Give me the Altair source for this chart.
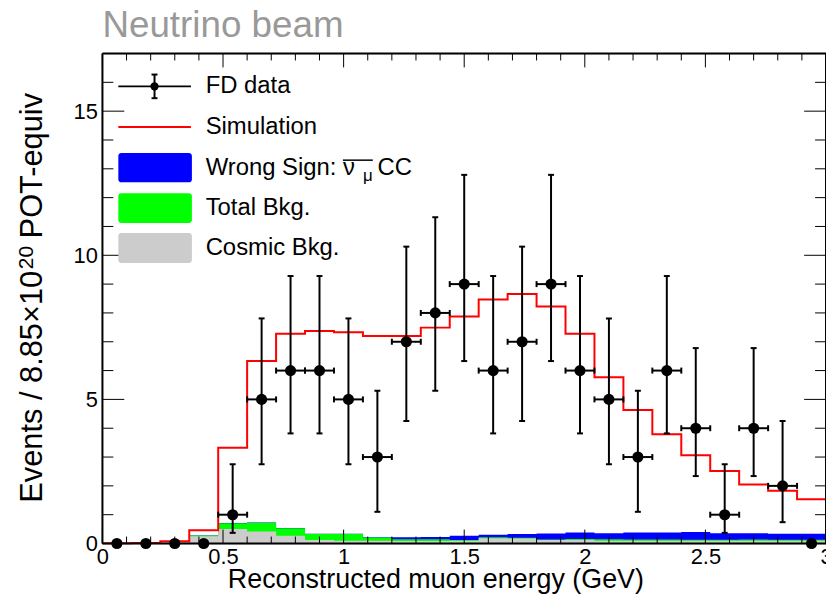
import altair as alt
import pandas as pd

FONT = "Liberation Sans"
W, H = 728, 493

# ---- data ----
edges = [0.00, 0.12, 0.24, 0.36, 0.48, 0.60, 0.72, 0.84, 0.96, 1.08, 1.20, 1.32, 1.44,
         1.56, 1.68, 1.80, 1.92, 2.04, 2.16, 2.28, 2.40, 2.52, 2.64, 2.76, 2.88, 3.00]
centers = [0.06, 0.18, 0.30, 0.42, 0.54, 0.66, 0.78, 0.90, 1.02, 1.14, 1.26, 1.38, 1.50,
           1.62, 1.74, 1.86, 1.98, 2.10, 2.22, 2.34, 2.46, 2.58, 2.70, 2.82, 2.94]
counts = [0, 0, 0, 0, 1, 5, 6, 6, 5, 3, 7, 8, 9, 6, 7, 9, 6, 5, 3, 6, 4, 1, 4, 2, 0]
err_lo = [0, 0, 0, 0, 0.37, 2.75, 3.82, 3.82, 2.75, 1.10, 4.25, 5.30, 6.33, 3.82, 4.25,
          6.33, 3.82, 2.75, 1.10, 3.82, 2.34, 0.37, 2.34, 0.74, 0]
err_hi = [0, 0, 0, 0, 2.75, 7.81, 9.28, 9.28, 7.81, 5.30, 10.30, 11.32, 12.79, 9.28, 10.30,
          12.79, 9.28, 7.81, 5.30, 9.28, 6.78, 2.75, 6.78, 4.25, 0]
simulation = [0.01, 0.02, 0.08, 0.46, 3.32, 6.33, 7.28, 7.37, 7.33, 7.20, 7.20, 7.49, 7.88,
              8.47, 8.66, 8.22, 7.28, 5.77, 4.63, 3.79, 3.06, 2.52, 2.05, 1.83, 1.54]
wrong_sign_top = [0.02, 0.03, 0.06, 0.28, 0.71, 0.73, 0.54, 0.34, 0.34, 0.22, 0.22, 0.23, 0.27,
                  0.30, 0.33, 0.35, 0.38, 0.36, 0.38, 0.38, 0.40, 0.36, 0.36, 0.34, 0.34]
total_bkg = [0.02, 0.03, 0.06, 0.28, 0.70, 0.72, 0.53, 0.33, 0.33, 0.21, 0.15, 0.15, 0.12,
             0.22, 0.20, 0.14, 0.16, 0.15, 0.14, 0.14, 0.13, 0.13, 0.14, 0.13, 0.13]
cosmic_bkg = [0.02, 0.03, 0.05, 0.25, 0.50, 0.42, 0.27, 0.12, 0.10, 0.10, 0.09, 0.09, 0.10,
              0.18, 0.17, 0.12, 0.12, 0.10, 0.10, 0.10, 0.10, 0.10, 0.10, 0.10, 0.10]
half_bin = 0.06

x_major = [0, 0.5, 1, 1.5, 2, 2.5, 3]
x_minor = [0.1, 0.2, 0.3, 0.4, 0.6, 0.7, 0.8, 0.9, 1.1, 1.2, 1.3, 1.4, 1.6, 1.7, 1.8, 1.9,
           2.1, 2.2, 2.3, 2.4, 2.6, 2.7, 2.8, 2.9]
y_major = [0, 5, 10, 15]
y_minor = [1, 2, 3, 4, 6, 7, 8, 9, 11, 12, 13, 14, 16]

# ---- tables ----
hist = pd.DataFrame({
    "x": edges,
    "sim": simulation + [simulation[-1]],
    "ws": wrong_sign_top + [wrong_sign_top[-1]],
    "bkg": total_bkg + [total_bkg[-1]],
    "cos": cosmic_bkg + [cosmic_bkg[-1]],
})
pts = pd.DataFrame({"x": centers, "n": counts, "lo": err_lo, "hi": err_hi})
pts["xl"] = pts["x"] - half_bin
pts["xh"] = pts["x"] + half_bin
pts_nz = pts[pts["n"] > 0]

xscale = alt.Scale(domain=[0, 3], nice=False, zero=False)
yscale = alt.Scale(domain=[0, 17], nice=False, zero=False)

xaxis = alt.Axis(title="Reconstructed muon energy (GeV)", values=x_major,
                 labelExpr="format(datum.value, '~g')", ticks=False, domain=False, grid=False,
                 labelFontSize=22, labelFont=FONT, labelColor="black", labelPadding=3,
                 labelFlush=False, labelOverlap=False,
                 titleFontSize=27, titleFont=FONT, titleFontWeight="normal", titleColor="black",
                 titleX=335, titleY=44, titleBaseline="alphabetic", titleAlign="center")
yaxis = alt.Axis(title=None, values=y_major, ticks=False,
                 domain=False, grid=False, labelFontSize=22, labelFont=FONT, labelColor="black",
                 labelPadding=5, labelFlush=False, labelOverlap=False)


def X(f):
    return alt.X(f, type="quantitative", scale=xscale, axis=xaxis)


def Y(f):
    return alt.Y(f, type="quantitative", scale=yscale, axis=yaxis)


hb = alt.Chart(hist)
blue = hb.mark_area(interpolate="step-after", color="#0000ff").encode(x=X("x"), y=Y("ws"))
green = hb.mark_area(interpolate="step-after", color="#00ff00").encode(x=X("x"), y=Y("bkg"))
gray = hb.mark_area(interpolate="step-after", color="#cccccc").encode(x=X("x"), y=Y("cos"))
red = hb.mark_line(interpolate="step-after", color="#ff0000", strokeWidth=2).encode(
    x=X("x"), y=Y("sim"))

pb = alt.Chart(pts_nz)
vbar = pb.mark_rule(color="black", strokeWidth=2).encode(x=X("x"), y=Y("lo"), y2="hi")
hbar = pb.mark_rule(color="black", strokeWidth=2).encode(x=X("xl"), x2="xh", y=Y("n"))
cap_lo = pb.mark_tick(orient="horizontal", size=6, thickness=2, color="black", opacity=1).encode(
    x=X("x"), y=Y("lo"))
cap_hi = pb.mark_tick(orient="horizontal", size=6, thickness=2, color="black", opacity=1).encode(
    x=X("x"), y=Y("hi"))
cap_l = pb.mark_tick(orient="vertical", size=6, thickness=2, color="black", opacity=1).encode(
    x=X("xl"), y=Y("n"))
cap_r = pb.mark_tick(orient="vertical", size=6, thickness=2, color="black", opacity=1).encode(
    x=X("xh"), y=Y("n"))
dots = alt.Chart(pts).mark_circle(size=125, color="black", opacity=1).encode(
    x=X("x"), y=Y("n"))


# ---- ticks (inward, all four sides) and frame ----
def xticks(vals, length):
    d = alt.Chart(pd.DataFrame({"v": vals}))
    b = d.mark_rule(color="black", strokeWidth=1).encode(
        x=X("v"), y=alt.value(H), y2=alt.value(H - length))
    t = d.mark_rule(color="black", strokeWidth=1).encode(
        x=X("v"), y=alt.value(0), y2=alt.value(length))
    return [b, t]


def yticks(vals, length):
    d = alt.Chart(pd.DataFrame({"v": vals}))
    l = d.mark_rule(color="black", strokeWidth=1).encode(
        y=Y("v"), x=alt.value(0), x2=alt.value(length))
    r = d.mark_rule(color="black", strokeWidth=1).encode(
        y=Y("v"), x=alt.value(W), x2=alt.value(W - length))
    return [l, r]


tick_layers = xticks(x_major, 14) + xticks(x_minor, 7) + yticks(y_major, 22) + yticks(y_minor, 11)

frame_df = alt.Chart(pd.DataFrame({"k": [0]}))
frame = [
    frame_df.mark_rule(color="black", strokeWidth=2).encode(x=alt.value(0), x2=alt.value(W), y=alt.value(H)),
    frame_df.mark_rule(color="black", strokeWidth=2).encode(x=alt.value(0), x2=alt.value(W), y=alt.value(0)),
    frame_df.mark_rule(color="black", strokeWidth=2).encode(x=alt.value(0), y=alt.value(0), y2=alt.value(H)),
    frame_df.mark_rule(color="black", strokeWidth=2).encode(x=alt.value(W), y=alt.value(0), y2=alt.value(H)),
]

# ---- title and y-axis title (with a true superscript) ----
title = alt.Chart(pd.DataFrame({"t": ["Neutrino beam"]})).mark_text(
    align="left", baseline="alphabetic", font=FONT, fontSize=37, color="#999999").encode(
    x=alt.value(0), y=alt.value(-17), text="t:N")
ytitle_a = alt.Chart(pd.DataFrame({"t": ["Events / 8.85×10"]})).mark_text(
    align="left", baseline="alphabetic", angle=270, font=FONT, fontSize=31, color="black").encode(
    x=alt.value(-61), y=alt.value(452), text="t:N")
ytitle_sup = alt.Chart(pd.DataFrame({"t": ["20"]})).mark_text(
    align="left", baseline="alphabetic", angle=270, font=FONT, fontSize=21, color="black").encode(
    x=alt.value(-70), y=alt.value(217), text="t:N")
ytitle_b = alt.Chart(pd.DataFrame({"t": ["POT-equiv"]})).mark_text(
    align="left", baseline="alphabetic", angle=270, font=FONT, fontSize=31, color="black").encode(
    x=alt.value(-61), y=alt.value(186), text="t:N")

# ---- legend (in data coordinates) ----
leg_x0, leg_x1, leg_xc, leg_tx = 0.066, 0.367, 0.216, 0.428
leg_rows = [15.86, 14.45, 13.03, 11.63, 10.25]
leg_labels = ["FD data", "Simulation", "Wrong Sign: ν", "Total Bkg.", "Cosmic Bkg."]
box_colors = ["#0000ff", "#00ff00", "#cccccc"]
box_lo = [12.53, 11.12, 9.73]
box_hi = [13.55, 12.15, 10.77]

leg_txt = alt.Chart(pd.DataFrame({"x": [leg_tx] * 5, "y": leg_rows, "t": leg_labels})).mark_text(
    align="left", baseline="middle", font=FONT, fontSize=24, color="black").encode(
    x=X("x"), y=Y("y"), text="t:N")
sub_mu = alt.Chart(pd.DataFrame({"x": [1.080], "y": [12.59], "t": ["μ"]})).mark_text(
    align="left", baseline="alphabetic", font=FONT, fontSize=17, color="black").encode(
    x=X("x"), y=Y("y"), text="t:N")
cc_txt = alt.Chart(pd.DataFrame({"x": [1.141], "y": [13.03], "t": ["CC"]})).mark_text(
    align="left", baseline="middle", font=FONT, fontSize=24, color="black").encode(
    x=X("x"), y=Y("y"), text="t:N")
overline = alt.Chart(pd.DataFrame({"x": [0.997], "x2": [1.121], "y": [13.30]})).mark_rule(
    color="black", strokeWidth=1.5).encode(x=X("x"), x2="x2", y=Y("y"))

leg_boxes = alt.Chart(pd.DataFrame({"x": [leg_x0] * 3, "x2": [leg_x1 + 0.004] * 3,
                                    "y": box_lo, "y2": box_hi, "c": box_colors})).mark_rect(
    cornerRadius=3).encode(x=X("x"), x2="x2", y=Y("y"), y2="y2",
                           color=alt.Color("c:N", scale=None))
leg_red = alt.Chart(pd.DataFrame({"x": [leg_x0], "x2": [leg_x1], "y": [leg_rows[1]]})).mark_rule(
    color="#ff0000", strokeWidth=2).encode(x=X("x"), x2="x2", y=Y("y"))
leg_hline = alt.Chart(pd.DataFrame({"x": [leg_x0], "x2": [leg_x1], "y": [leg_rows[0]]})).mark_rule(
    color="black", strokeWidth=2).encode(x=X("x"), x2="x2", y=Y("y"))
leg_err = pd.DataFrame({"x": [leg_xc], "lo": [leg_rows[0] - 0.41], "hi": [leg_rows[0] + 0.41],
                        "y": [leg_rows[0]]})
leg_vbar = alt.Chart(leg_err).mark_rule(color="black", strokeWidth=2).encode(
    x=X("x"), y=Y("lo"), y2="hi")
leg_cap1 = alt.Chart(leg_err).mark_tick(orient="horizontal", size=6, thickness=2, color="black",
                                        opacity=1).encode(x=X("x"), y=Y("lo"))
leg_cap2 = alt.Chart(leg_err).mark_tick(orient="horizontal", size=6, thickness=2, color="black",
                                        opacity=1).encode(x=X("x"), y=Y("hi"))
leg_dot = alt.Chart(leg_err).mark_circle(size=70, color="black", opacity=1).encode(
    x=X("x"), y=Y("y"))

layers = [blue, green, gray, red] + tick_layers + frame + [
    vbar, hbar, cap_lo, cap_hi, cap_l, cap_r, dots,
    leg_boxes, leg_red, leg_hline, leg_vbar, leg_cap1, leg_cap2, leg_dot,
    leg_txt, sub_mu, cc_txt, overline, title, ytitle_a, ytitle_sup, ytitle_b]

chart = alt.layer(*layers).properties(
    width=W, height=H,
    autosize=alt.AutoSizeParams(type="none"),
    padding={"left": 95, "top": 44, "right": 0, "bottom": 50},
).configure_view(stroke=None).configure(background="white")

chart.save("out.html", embed_options={"renderer": "svg", "actions": False})
